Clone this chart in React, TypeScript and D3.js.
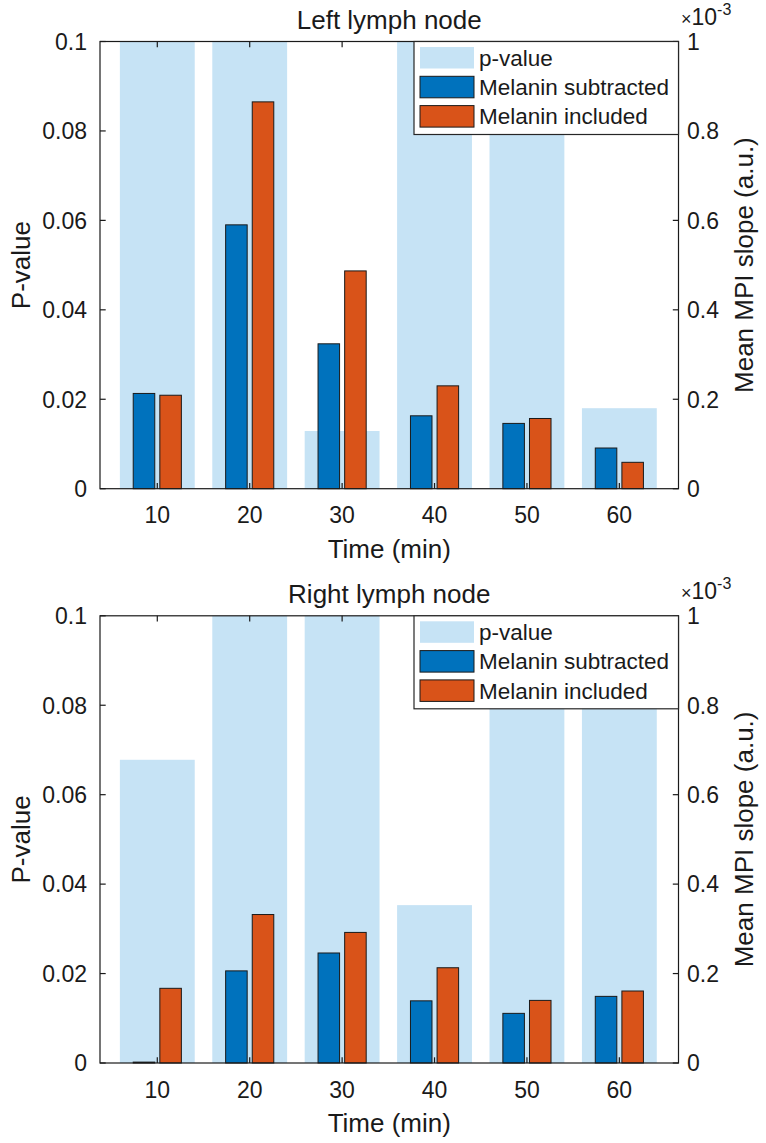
import React from "react";
import * as d3 from "d3";

// Sampling times (min)
const times = [10, 20, 30, 40, 50, 60];

// Left lymph node
const leftPValue = [0.42, 0.27, 0.0129, 0.36, 0.21, 0.018];
const leftSubtracted = [0.213e-3, 0.59e-3, 0.324e-3, 0.163e-3, 0.146e-3, 0.091e-3];
const leftIncluded = [0.209e-3, 0.865e-3, 0.487e-3, 0.23e-3, 0.157e-3, 0.059e-3];

// Right lymph node
const rightPValue = [0.0678, 0.31, 0.48, 0.0353, 0.24, 0.19];
const rightSubtracted = [0.002e-3, 0.206e-3, 0.246e-3, 0.139e-3, 0.111e-3, 0.149e-3];
const rightIncluded = [0.167e-3, 0.332e-3, 0.292e-3, 0.213e-3, 0.14e-3, 0.161e-3];

const pTicks = [0, 0.02, 0.04, 0.06, 0.08, 0.1];
const slopeTicks = [0, 0.2e-3, 0.4e-3, 0.6e-3, 0.8e-3, 1e-3];
const legendLabels = ["p-value", "Melanin subtracted", "Melanin included"];

const COLORS = {
  pale: "#C6E3F5",
  blue: "#0072BD",
  orange: "#D95319",
  ink: "#1a1a1a",
};

const FONT = "'Liberation Sans', Arial, Helvetica, sans-serif";

type PanelProps = {
  top: number;
  title: string;
  pValues: number[];
  subtracted: number[];
  included: number[];
  id: string;
};

const AX_LEFT = 100;
const AX_RIGHT = 678.5;
const AX_HEIGHT = 447.2;
const TICK = 5.7;
const PALE_WIDTH = 8.1;
const GROUP_OFFSET = 1.44;
const GROUP_BAR_WIDTH = 2.33;

const TICK_FONT = 23;
const LABEL_FONT = 26;
const LEGEND_FONT = 22.5;

function Panel({ top, title, pValues, subtracted, included, id }: PanelProps) {
  const bottom = top + AX_HEIGHT;
  const x = d3.scaleLinear().domain([3.8, 66.4]).range([AX_LEFT, AX_RIGHT]);
  const yP = d3.scaleLinear().domain([0, 0.1]).range([bottom, top]);
  const yS = d3.scaleLinear().domain([0, 1e-3]).range([bottom, top]);
  const w = (u: number) => x(u) - x(0);
  const cx = (AX_LEFT + AX_RIGHT) / 2;
  const cy = (top + bottom) / 2;

  const legX = AX_RIGHT - 264.5;
  const legY = top;
  const legEntries = [
    { label: legendLabels[0], fill: COLORS.pale, stroke: "none" },
    { label: legendLabels[1], fill: COLORS.blue, stroke: COLORS.ink },
    { label: legendLabels[2], fill: COLORS.orange, stroke: COLORS.ink },
  ];

  return (
    <g fontFamily={FONT} fill={COLORS.ink}>
      <defs>
        <clipPath id={id}>
          <rect x={AX_LEFT} y={top} width={AX_RIGHT - AX_LEFT} height={AX_HEIGHT} />
        </clipPath>
      </defs>

      {/* p-value bars on the left axis */}
      <g clipPath={`url(#${id})`}>
        {times.map((t, i) => (
          <rect
            key={`p${t}`}
            x={x(t) - w(PALE_WIDTH) / 2}
            y={yP(pValues[i])}
            width={w(PALE_WIDTH)}
            height={bottom - yP(pValues[i])}
            fill={COLORS.pale}
          />
        ))}
      </g>

      {/* slope bars on the right axis */}
      {times.map((t, i) => (
        <g key={`s${t}`} stroke={COLORS.ink} strokeWidth={1}>
          <rect
            x={x(t - GROUP_OFFSET) - w(GROUP_BAR_WIDTH) / 2}
            y={yS(subtracted[i])}
            width={w(GROUP_BAR_WIDTH)}
            height={bottom - yS(subtracted[i])}
            fill={COLORS.blue}
          />
          <rect
            x={x(t + GROUP_OFFSET) - w(GROUP_BAR_WIDTH) / 2}
            y={yS(included[i])}
            width={w(GROUP_BAR_WIDTH)}
            height={bottom - yS(included[i])}
            fill={COLORS.orange}
          />
        </g>
      ))}

      {/* axes box and ticks */}
      <g stroke={COLORS.ink} strokeWidth={1.2} fill="none">
        <rect x={AX_LEFT} y={top} width={AX_RIGHT - AX_LEFT} height={AX_HEIGHT} />
        {times.map((t) => (
          <g key={`xt${t}`}>
            <line x1={x(t)} x2={x(t)} y1={bottom} y2={bottom - TICK} />
            <line x1={x(t)} x2={x(t)} y1={top} y2={top + TICK} />
          </g>
        ))}
        {pTicks.map((v) => (
          <line key={`yl${v}`} x1={AX_LEFT} x2={AX_LEFT + TICK} y1={yP(v)} y2={yP(v)} />
        ))}
        {slopeTicks.map((v) => (
          <line key={`yr${v}`} x1={AX_RIGHT} x2={AX_RIGHT - TICK} y1={yS(v)} y2={yS(v)} />
        ))}
      </g>

      {/* tick labels */}
      <g fontSize={TICK_FONT}>
        {times.map((t) => (
          <text key={`xl${t}`} x={x(t)} y={bottom + 34.5} textAnchor="middle">
            {t}
          </text>
        ))}
        {pTicks.map((v) => (
          <text key={`pl${v}`} x={87} y={yP(v)} dy="0.36em" textAnchor="end">
            {d3.format("~g")(v)}
          </text>
        ))}
        {slopeTicks.map((v) => (
          <text key={`sl${v}`} x={687} y={yS(v)} dy="0.36em" textAnchor="start">
            {d3.format("~g")(+(v / 1e-3).toFixed(2))}
          </text>
        ))}
        <text x={681} y={top - 17}>
          <tspan fontSize={18}>×</tspan>
          <tspan>10</tspan>
          <tspan dy={-10} fontSize={16}>-3</tspan>
        </text>
      </g>

      {/* titles and axis labels */}
      <g fontSize={LABEL_FONT}>
        <text x={cx} y={top - 13} textAnchor="middle">{title}</text>
        <text x={cx} y={bottom + 69} textAnchor="middle">Time (min)</text>
        <text transform={`translate(30,${cy}) rotate(-90)`} textAnchor="middle">P-value</text>
        <text transform={`translate(753,${cy}) rotate(-90)`} textAnchor="middle">
          Mean MPI slope (a.u.)
        </text>
      </g>

      {/* legend */}
      <g>
        <rect
          x={legX}
          y={legY}
          width={AX_RIGHT - legX}
          height={93}
          fill="#fff"
          stroke="#262626"
          strokeWidth={1.2}
        />
        {legEntries.map((e, i) => {
          const sy = legY + 5.5 + i * 29.3;
          return (
            <g key={e.label}>
              <rect
                x={legX + 6}
                y={sy}
                width={54}
                height={21.5}
                fill={e.fill}
                stroke={e.stroke}
                strokeWidth={1}
              />
              <text x={legX + 65} y={sy + 10.75} dy="0.36em" fontSize={LEGEND_FONT}>
                {e.label}
              </text>
            </g>
          );
        })}
      </g>
    </g>
  );
}

export default function App() {
  return (
    <svg
      width={766}
      height={1143}
      style={{ position: "absolute", left: 0, top: 0, background: "#fff" }}
    >
      <rect width={766} height={1143} fill="#fff" />
      <Panel
        id="clip-left"
        top={41.5}
        title="Left lymph node"
        pValues={leftPValue}
        subtracted={leftSubtracted}
        included={leftIncluded}
      />
      <Panel
        id="clip-right"
        top={615.8}
        title="Right lymph node"
        pValues={rightPValue}
        subtracted={rightSubtracted}
        included={rightIncluded}
      />
    </svg>
  );
}
